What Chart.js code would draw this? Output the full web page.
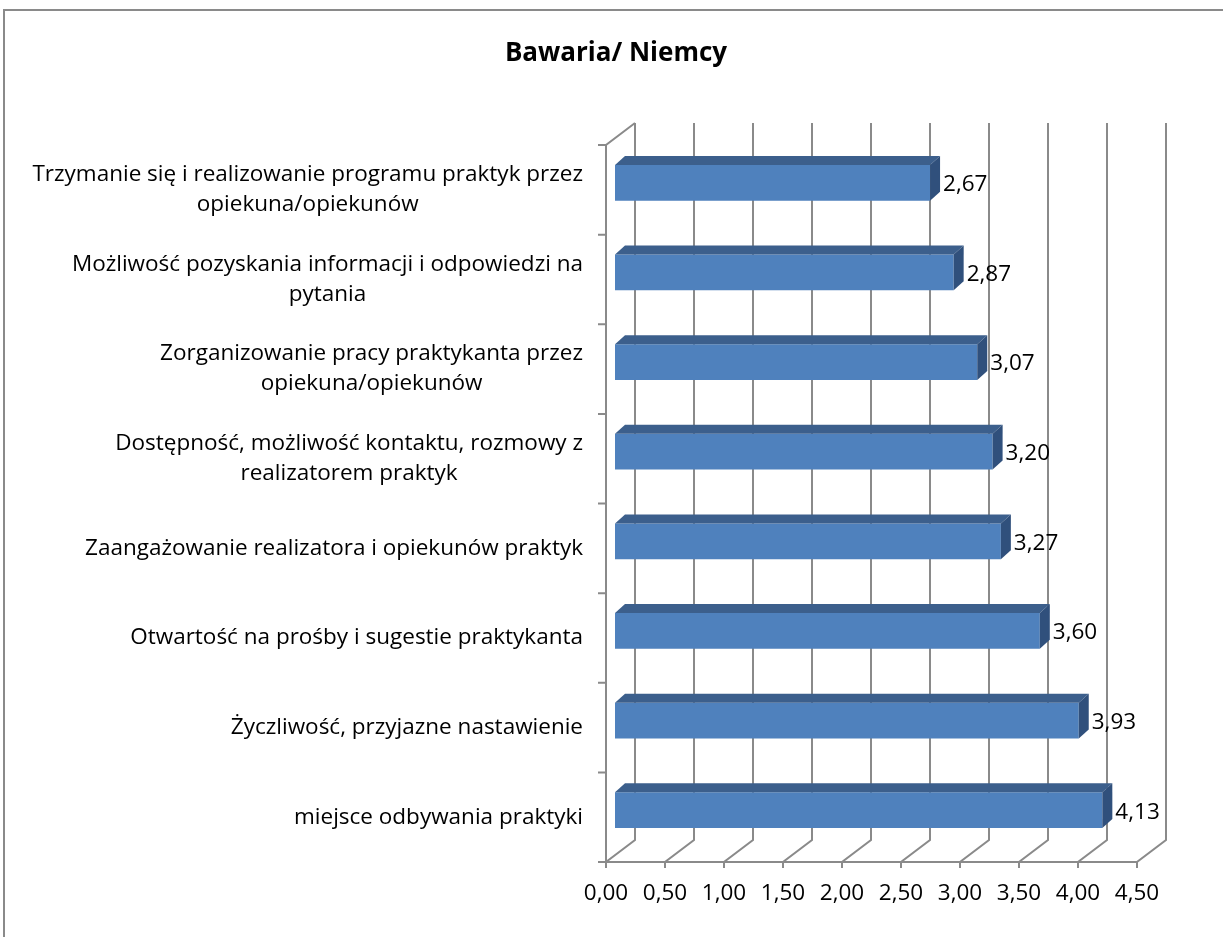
<!DOCTYPE html>
<html lang="pl">
<head>
  <meta charset="UTF-8" />
  <title>Bawaria/ Niemcy</title>
  <script src="https://cdn.jsdelivr.net/npm/chart.js"></script>
  <style>
    html, body { margin: 0; padding: 0; background: #fff; overflow: hidden; }
    .chart-box { position: relative; width: 1223px; height: 937px; }
  </style>
</head>
<body>
  <div class="chart-box"><canvas id="chart"></canvas></div>

  <script>
    // Dane wykresu
    const categories = [
      ['Trzymanie się i realizowanie programu praktyk przez', 'opiekuna/opiekunów'],
      ['Możliwość pozyskania informacji i odpowiedzi na', 'pytania'],
      ['Zorganizowanie pracy praktykanta przez', 'opiekuna/opiekunów'],
      ['Dostępność, możliwość kontaktu, rozmowy z', 'realizatorem praktyk'],
      ['Zaangażowanie realizatora i opiekunów praktyk'],
      ['Otwartość na prośby i sugestie praktykanta'],
      ['Życzliwość, przyjazne nastawienie'],
      ['miejsce odbywania praktyki']
    ];
    const values = [2.67, 2.87, 3.07, 3.20, 3.27, 3.60, 3.93, 4.13];
    const axisMin = 0;
    const axisMax = 4.5;
    const axisStep = 0.5;

    const FONT = '"Open Sans", "DejaVu Sans", sans-serif';
    const FONT_SIZE = 22.5;
    const fmt = v => Number(v).toFixed(2).replace('.', ',');

    // geometria "3D": przesunięcie tylnej ściany i położenie słupków w głębi
    const WALL = { dx: 29, dy: -22 };
    const BAR_SHIFT = { dx: 9, dy: -7 };
    const BAR_DEPTH = { dx: 10, dy: -9 };
    const GRID = '#8a8a8a';

    const box3d = {
      id: 'box3d',
      beforeDraw(chart) {
        const ctx = chart.ctx;
        ctx.save();
        ctx.strokeStyle = '#8a8a8a';
        ctx.lineWidth = 2;
        ctx.beginPath();
        ctx.moveTo(4, 1000);
        ctx.lineTo(4, 10);
        ctx.lineTo(1300, 10);
        ctx.stroke();
        ctx.restore();
      },
      beforeDatasetsDraw(chart) {
        const { ctx, chartArea: a, scales } = chart;
        const xs = scales.x;
        ctx.save();
        ctx.strokeStyle = GRID;
        ctx.lineWidth = 2;
        ctx.beginPath();
        // ściana tylna + podłoga
        xs.ticks.forEach(t => {
          const px = xs.getPixelForValue(t.value);
          ctx.moveTo(px + WALL.dx, a.top + WALL.dy);
          ctx.lineTo(px + WALL.dx, a.bottom + WALL.dy);
          ctx.lineTo(px, a.bottom);
          ctx.lineTo(px, a.bottom + 6);
        });
        // krawędź podłogi
        ctx.moveTo(a.left, a.bottom);
        ctx.lineTo(a.right, a.bottom);
        // lewa ściana
        ctx.moveTo(a.left, a.bottom);
        ctx.lineTo(a.left, a.top);
        ctx.lineTo(a.left + WALL.dx, a.top + WALL.dy);
        // znaczniki kategorii
        const n = categories.length;
        const step = (a.bottom - a.top) / n;
        for (let i = 0; i <= n; i++) {
          const y = a.top + i * step;
          ctx.moveTo(a.left - 8, y);
          ctx.lineTo(a.left, y);
        }
        ctx.stroke();
        ctx.restore();

        ctx.save();
        ctx.translate(BAR_SHIFT.dx, BAR_SHIFT.dy);
      },
      afterDatasetsDraw(chart) {
        const { ctx, scales } = chart;
        ctx.restore();

        const meta = chart.getDatasetMeta(0);
        meta.data.forEach((bar, i) => {
          const { x, y, base, height } = bar.getProps(['x', 'y', 'base', 'height'], true);
          const l = base + BAR_SHIFT.dx, r = x + BAR_SHIFT.dx;
          const t = y - height / 2 + BAR_SHIFT.dy, b = y + height / 2 + BAR_SHIFT.dy;
          const dx = BAR_DEPTH.dx, dy = BAR_DEPTH.dy;

          // góra
          ctx.fillStyle = '#3c5f8c';
          ctx.beginPath();
          ctx.moveTo(l, t);
          ctx.lineTo(l + dx, t + dy);
          ctx.lineTo(r + dx, t + dy);
          ctx.lineTo(r, t);
          ctx.closePath();
          ctx.fill();
          // bok
          ctx.fillStyle = '#30507c';
          ctx.beginPath();
          ctx.moveTo(r, t);
          ctx.lineTo(r + dx, t + dy);
          ctx.lineTo(r + dx, b + dy);
          ctx.lineTo(r, b);
          ctx.closePath();
          ctx.fill();

          // etykieta wartości
          ctx.fillStyle = '#000';
          ctx.font = FONT_SIZE + 'px ' + FONT;
          ctx.textAlign = 'left';
          ctx.textBaseline = 'middle';
          ctx.fillText(fmt(values[i]), r + 13, y + BAR_SHIFT.dy + 2);
        });

        // etykiety kategorii: blok wyrównany do prawej, wiersze wyśrodkowane
        const ys = scales.y;
        const rightX = chart.chartArea.left - 23;
        const lh = 30;
        ctx.font = FONT_SIZE + 'px ' + FONT;
        ctx.fillStyle = '#000';
        ctx.textAlign = 'center';
        ctx.textBaseline = 'middle';
        categories.forEach((lines, i) => {
          const cy = ys.getPixelForTick(i);
          const w = Math.max(...lines.map(s => ctx.measureText(s).width));
          const cx = rightX - w / 2;
          const y0 = cy - (lines.length - 1) * lh / 2;
          lines.forEach((s, k) => ctx.fillText(s, cx, y0 + k * lh));
        });
      }
    };

    new Chart(document.getElementById('chart').getContext('2d'), {
      type: 'bar',
      data: {
        labels: categories,
        datasets: [{
          data: values,
          backgroundColor: '#4f81bd',
          borderWidth: 0,
          categoryPercentage: 1,
          barPercentage: 0.4
        }]
      },
      options: {
        indexAxis: 'y',
        responsive: true,
        maintainAspectRatio: false,
        animation: false,
        layout: { padding: { left: 95, right: 86, top: 0, bottom: 0 } },
        scales: {
          x: {
            min: axisMin,
            max: axisMax,
            grid: { display: false, drawTicks: false },
            border: { display: false },
            ticks: {
              stepSize: axisStep,
              padding: 18,
              color: '#000',
              font: { family: FONT, size: FONT_SIZE },
              callback: v => fmt(v)
            },
            afterFit: s => { s.height = 75; }
          },
          y: {
            grid: { display: false, drawTicks: false },
            border: { display: false },
            ticks: { display: false },
            afterFit: s => { s.width = 511; }
          }
        },
        plugins: {
          legend: { display: false },
          tooltip: { enabled: false },
          title: {
            display: true,
            text: 'Bawaria/ Niemcy',
            color: '#000',
            font: { family: FONT, size: 26, weight: 'bold' },
            padding: { top: 38, bottom: 75.8 }
          }
        }
      },
      plugins: [box3d]
    });
  </script>
</body>
</html>
